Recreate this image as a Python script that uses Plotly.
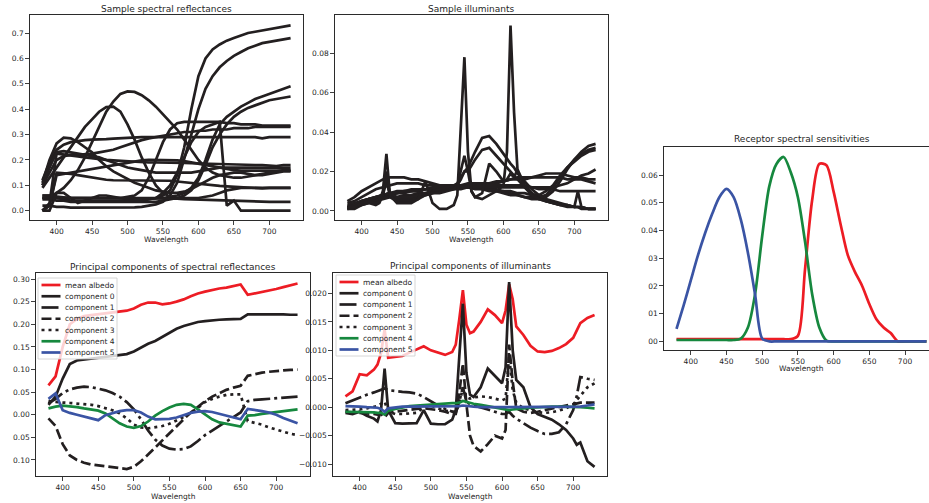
import plotly.graph_objects as go

W, H = 929, 503

# ---------------- data ----------------
wavelengths = [380, 390, 400, 410, 420, 430, 440, 450, 460, 470, 480, 490,
               500, 510, 520, 530, 540, 550, 560, 570, 580, 590, 600, 610,
               620, 630, 640, 650, 660, 670, 680, 690, 700, 710, 720, 730]

ill_wavelengths = [380, 390, 400, 410, 420, 425, 430, 435, 440, 450, 460, 470,
                   480, 490, 500, 510, 520, 530, 535, 540, 545, 550, 555, 560,
                   570, 580, 590, 600, 605, 610, 615, 620, 630, 640, 650, 660,
                   670, 680, 690, 700, 705, 710, 720, 730]

# sample spectral reflectances (on wavelengths)
refl_1 = [0.05, 0.05, 0.05, 0.045, 0.04, 0.04, 0.04, 0.04, 0.04, 0.04, 0.04, 0.04, 0.04, 0.04, 0.04,
          0.045, 0.05, 0.06, 0.08, 0.14, 0.25, 0.4, 0.53, 0.6, 0.635, 0.655, 0.67, 0.68, 0.69, 0.7,
          0.705, 0.71, 0.715, 0.72, 0.725, 0.73]
refl_2 = [0.02, 0.02, 0.015, 0.015, 0.012, 0.012, 0.012, 0.012, 0.012, 0.012, 0.012, 0.012, 0.012, 0.013, 0.015,
          0.02, 0.025, 0.035, 0.06, 0.11, 0.2, 0.3, 0.4, 0.48, 0.53, 0.565, 0.59, 0.61, 0.625, 0.64,
          0.65, 0.66, 0.665, 0.67, 0.675, 0.68]
refl_3 = [0.06, 0.06, 0.055, 0.05, 0.05, 0.05, 0.05, 0.05, 0.05, 0.05, 0.05, 0.05, 0.05, 0.05, 0.05,
          0.05, 0.05, 0.05, 0.055, 0.06, 0.07, 0.09, 0.13, 0.2, 0.28, 0.34, 0.37, 0.39, 0.41, 0.425,
          0.44, 0.45, 0.46, 0.47, 0.48, 0.49]
refl_4 = [0.045, 0.045, 0.04, 0.04, 0.035, 0.035, 0.035, 0.035, 0.035, 0.035, 0.035, 0.035, 0.035, 0.035, 0.035,
          0.035, 0.035, 0.04, 0.045, 0.05, 0.06, 0.08, 0.12, 0.18, 0.25, 0.3, 0.34, 0.37, 0.39, 0.405,
          0.415, 0.425, 0.435, 0.44, 0.445, 0.45]
refl_5 = [0.05, 0.05, 0.05, 0.05, 0.05, 0.05, 0.05, 0.05, 0.05, 0.05, 0.05, 0.05, 0.055, 0.06, 0.08,
          0.13, 0.2, 0.27, 0.32, 0.345, 0.35, 0.35, 0.35, 0.35, 0.35, 0.35, 0.345, 0.345, 0.34, 0.34,
          0.34, 0.335, 0.335, 0.335, 0.335, 0.335]
refl_6 = [0.1, 0.15, 0.2, 0.215, 0.22, 0.22, 0.222, 0.225, 0.23, 0.235, 0.24, 0.25, 0.26, 0.27, 0.278,
          0.285, 0.29, 0.295, 0.3, 0.305, 0.31, 0.31, 0.315, 0.315, 0.32, 0.32, 0.32, 0.325, 0.325, 0.325,
          0.33, 0.33, 0.33, 0.33, 0.33, 0.33]
refl_7 = [0.12, 0.19, 0.24, 0.26, 0.27, 0.275, 0.278, 0.28, 0.28, 0.282, 0.284, 0.286, 0.288, 0.29, 0.29,
          0.29, 0.29, 0.29, 0.29, 0.29, 0.292, 0.292, 0.292, 0.292, 0.292, 0.292, 0.292, 0.29, 0.29, 0.29,
          0.29, 0.285, 0.29, 0.29, 0.29, 0.29]
refl_8 = [0.11, 0.2, 0.265, 0.288, 0.285, 0.27, 0.25, 0.23, 0.2, 0.175, 0.155, 0.14, 0.125, 0.11, 0.1,
          0.09, 0.08, 0.075, 0.07, 0.07, 0.075, 0.085, 0.1, 0.115, 0.13, 0.14, 0.145, 0.15, 0.15, 0.145,
          0.14, 0.14, 0.145, 0.15, 0.155, 0.155]
refl_9 = [0.09, 0.13, 0.17, 0.21, 0.25, 0.29, 0.33, 0.36, 0.39, 0.408, 0.41, 0.39, 0.34, 0.28, 0.21,
          0.15, 0.1, 0.07, 0.055, 0.05, 0.05, 0.05, 0.05, 0.055, 0.06, 0.07, 0.08, 0.085, 0.09, 0.09,
          0.09, 0.09, 0.09, 0.09, 0.09, 0.09]
refl_10 = [0.05, 0.055, 0.07, 0.09, 0.12, 0.16, 0.21, 0.27, 0.33, 0.39, 0.43, 0.46, 0.47, 0.468, 0.455,
           0.435, 0.41, 0.38, 0.35, 0.32, 0.28, 0.24, 0.2, 0.17, 0.15, 0.14, 0.135, 0.13, 0.13, 0.135,
           0.14, 0.145, 0.15, 0.155, 0.16, 0.16]
refl_11 = [0.0, 0.0, 0.07, 0.07, 0.05, 0.03, 0.04, 0.05, 0.06, 0.06, 0.055, 0.05, 0.045, 0.04, 0.04,
           0.045, 0.05, 0.07, 0.1, 0.15, 0.21, 0.27, 0.31, 0.33, 0.34, 0.35, 0.02, 0.04, 0.0, 0.0,
           0.0, 0.0, 0.0, 0.0, 0.0, 0.0]
refl_12 = [0.0, 0.03, 0.225, 0.222, 0.218, 0.214, 0.21, 0.206, 0.202, 0.2, 0.198, 0.196, 0.194, 0.192, 0.19,
           0.19, 0.19, 0.19, 0.19, 0.19, 0.188, 0.187, 0.186, 0.185, 0.185, 0.184, 0.183, 0.182, 0.181, 0.18,
           0.18, 0.18, 0.179, 0.176, 0.18, 0.18]
refl_13 = [0.0, 0.02, 0.15, 0.148, 0.145, 0.14, 0.135, 0.13, 0.126, 0.122, 0.12, 0.12, 0.12, 0.12, 0.12,
           0.12, 0.12, 0.12, 0.118, 0.115, 0.112, 0.108, 0.105, 0.102, 0.1, 0.098, 0.096, 0.094, 0.092, 0.09,
           0.09, 0.088, 0.09, 0.09, 0.09, 0.09]
refl_14 = [0.06, 0.06, 0.056, 0.053, 0.05, 0.05, 0.05, 0.05, 0.05, 0.05, 0.05, 0.05, 0.05, 0.05, 0.05,
           0.05, 0.05, 0.05, 0.05, 0.048, 0.046, 0.045, 0.044, 0.043, 0.042, 0.04, 0.04, 0.038, 0.037, 0.036,
           0.035, 0.035, 0.035, 0.035, 0.035, 0.035]
refl_15 = [0.0, 0.02, 0.14, 0.145, 0.15, 0.155, 0.16, 0.165, 0.17, 0.175, 0.18, 0.185, 0.19, 0.195, 0.198,
           0.2, 0.2, 0.2, 0.2, 0.198, 0.195, 0.19, 0.185, 0.18, 0.175, 0.17, 0.165, 0.16, 0.158, 0.158,
           0.158, 0.157, 0.157, 0.157, 0.158, 0.158]
refl_16 = [0.1, 0.17, 0.23, 0.235, 0.23, 0.225, 0.22, 0.215, 0.21, 0.2, 0.19, 0.18, 0.17, 0.165, 0.16,
           0.155, 0.15, 0.15, 0.15, 0.15, 0.15, 0.15, 0.155, 0.16, 0.165, 0.17, 0.17, 0.17, 0.17, 0.17,
           0.17, 0.17, 0.17, 0.17, 0.17, 0.17]

# sample illuminants: fluorescent ones on ill_wavelengths, smooth ones on wavelengths
illum_f1 = [0.002, 0.002, 0.004, 0.005, 0.004, 0.005, 0.01, 0.029, 0.008, 0.004, 0.004, 0.004,
            0.006, 0.015, 0.004, 0.001, 0.001, 0.003, 0.008, 0.04, 0.078, 0.03, 0.01, 0.007,
            0.006, 0.008, 0.01, 0.013, 0.03, 0.094, 0.05, 0.02, 0.012, 0.008, 0.006, 0.005,
            0.004, 0.003, 0.002, 0.002, 0.01, 0.002, 0.001, 0.001]
illum_f2 = [0.001, 0.001, 0.003, 0.004, 0.003, 0.004, 0.008, 0.02, 0.007, 0.005, 0.005, 0.005,
            0.006, 0.008, 0.009, 0.009, 0.01, 0.011, 0.013, 0.02, 0.028, 0.02, 0.01, 0.007,
            0.009, 0.024, 0.02, 0.015, 0.016, 0.019, 0.017, 0.021, 0.013, 0.009, 0.006, 0.005,
            0.004, 0.003, 0.003, 0.002, 0.002, 0.002, 0.001, 0.001]
illum_f3 = [0.002, 0.003, 0.005, 0.006, 0.005, 0.006, 0.009, 0.018, 0.009, 0.007, 0.007, 0.007,
            0.008, 0.009, 0.01, 0.011, 0.012, 0.013, 0.014, 0.017, 0.02, 0.022, 0.026, 0.03,
            0.037, 0.038, 0.034, 0.029, 0.026, 0.024, 0.022, 0.019, 0.015, 0.011, 0.008, 0.006,
            0.005, 0.004, 0.003, 0.002, 0.002, 0.002, 0.001, 0.001]
illum_f4 = [0.001, 0.002, 0.004, 0.005, 0.004, 0.005, 0.008, 0.015, 0.008, 0.006, 0.006, 0.006,
            0.007, 0.008, 0.009, 0.01, 0.011, 0.012, 0.013, 0.016, 0.02, 0.02, 0.023, 0.026,
            0.031, 0.032, 0.028, 0.024, 0.022, 0.02, 0.018, 0.016, 0.012, 0.009, 0.007, 0.005,
            0.004, 0.003, 0.003, 0.002, 0.002, 0.001, 0.001, 0.001]
illum_s1 = [0.005, 0.007, 0.01, 0.012, 0.014, 0.016, 0.017, 0.017, 0.017, 0.016, 0.016, 0.015,
            0.014, 0.013, 0.013, 0.013, 0.013, 0.013, 0.013, 0.013, 0.014, 0.014, 0.015, 0.016,
            0.017, 0.017, 0.017, 0.018, 0.019, 0.019, 0.019, 0.018, 0.017, 0.017, 0.016, 0.016]
illum_s2 = [0.004, 0.005, 0.007, 0.009, 0.011, 0.012, 0.013, 0.014, 0.014, 0.014, 0.014, 0.013,
            0.013, 0.013, 0.013, 0.013, 0.013, 0.014, 0.014, 0.014, 0.014, 0.015, 0.015, 0.016,
            0.016, 0.016, 0.017, 0.017, 0.017, 0.017, 0.017, 0.016, 0.016, 0.016, 0.015, 0.014]
illum_s3 = [0.002, 0.003, 0.004, 0.005, 0.006, 0.007, 0.008, 0.009, 0.009, 0.01, 0.01, 0.011,
            0.011, 0.012, 0.012, 0.012, 0.013, 0.013, 0.013, 0.013, 0.013, 0.013, 0.013, 0.013,
            0.013, 0.013, 0.012, 0.012, 0.012, 0.012, 0.013, 0.014, 0.016, 0.018, 0.019, 0.021]
illum_s4 = [0.001, 0.002, 0.004, 0.006, 0.007, 0.008, 0.009, 0.009, 0.01, 0.01, 0.011, 0.011,
            0.011, 0.011, 0.012, 0.012, 0.012, 0.012, 0.012, 0.011, 0.011, 0.01, 0.01, 0.009,
            0.008, 0.007, 0.006, 0.006, 0.007, 0.01, 0.015, 0.021, 0.026, 0.03, 0.033, 0.034]
illum_s5 = [0.002, 0.003, 0.005, 0.006, 0.007, 0.008, 0.009, 0.01, 0.01, 0.011, 0.011, 0.011,
            0.012, 0.012, 0.012, 0.012, 0.012, 0.012, 0.011, 0.011, 0.01, 0.01, 0.009, 0.008,
            0.008, 0.007, 0.007, 0.007, 0.008, 0.012, 0.017, 0.022, 0.026, 0.029, 0.031, 0.032]
illum_s6 = [0.003, 0.004, 0.005, 0.006, 0.007, 0.008, 0.009, 0.009, 0.01, 0.01, 0.01, 0.011,
            0.011, 0.011, 0.011, 0.012, 0.012, 0.012, 0.012, 0.012, 0.011, 0.011, 0.01, 0.01,
            0.009, 0.009, 0.008, 0.008, 0.01, 0.013, 0.018, 0.022, 0.025, 0.028, 0.03, 0.031]
illum_s7 = [0.001, 0.002, 0.003, 0.004, 0.005, 0.006, 0.007, 0.007, 0.008, 0.008, 0.009, 0.009,
            0.01, 0.01, 0.011, 0.011, 0.011, 0.012, 0.012, 0.012, 0.012, 0.012, 0.012, 0.012,
            0.012, 0.012, 0.012, 0.011, 0.011, 0.011, 0.01, 0.01, 0.01, 0.01, 0.01, 0.01]

# principal components of spectral reflectances (on wavelengths)
pcr_mean = [0.065, 0.085, 0.15, 0.2, 0.212, 0.218, 0.22, 0.222, 0.224, 0.226, 0.228, 0.23,
            0.235, 0.243, 0.248, 0.248, 0.244, 0.246, 0.25, 0.255, 0.262, 0.268, 0.272, 0.276,
            0.279, 0.281, 0.284, 0.288, 0.265, 0.268, 0.272, 0.274, 0.278, 0.282, 0.286, 0.29]
pcr_0 = [0.022, 0.04, 0.08, 0.112, 0.12, 0.122, 0.123, 0.125, 0.127, 0.129, 0.131, 0.134,
         0.14, 0.148, 0.157, 0.163, 0.172, 0.182, 0.19, 0.196, 0.2, 0.205, 0.207, 0.209,
         0.21, 0.211, 0.212, 0.212, 0.222, 0.222, 0.223, 0.223, 0.223, 0.222, 0.221, 0.221]
pcr_1 = [0.025, 0.035, 0.048, 0.056, 0.06, 0.062, 0.061, 0.058, 0.054, 0.048, 0.04, 0.028,
         0.012, -0.01, -0.035, -0.055, -0.068, -0.075, -0.077, -0.076, -0.07, -0.058, -0.045, -0.035,
         -0.025, -0.015, -0.005, 0.005, 0.03, 0.033, 0.034, 0.035, 0.036, 0.037, 0.039, 0.04]
pcr_2 = [-0.008, -0.025, -0.065, -0.09, -0.1, -0.106, -0.11, -0.112, -0.113, -0.115, -0.118, -0.12,
         -0.115, -0.103, -0.088, -0.072, -0.056, -0.04, -0.025, -0.01, 0.005, 0.018, 0.03, 0.04,
         0.048, 0.055, 0.06, 0.064, 0.086, 0.09, 0.093, 0.095, 0.097, 0.098, 0.099, 0.1]
pcr_3 = [0.03, 0.028, 0.027, 0.026, 0.025, 0.024, 0.022, 0.019, 0.015, 0.01, 0.003, -0.008,
         -0.022, -0.028, -0.03, -0.028, -0.025, -0.02, -0.013, -0.005, 0.005, 0.015, 0.028, 0.035,
         0.04, 0.044, 0.045, 0.045, -0.014, -0.018, -0.022, -0.028, -0.033, -0.038, -0.042, -0.045]
pcr_4 = [0.014, 0.018, 0.02, 0.019, 0.017, 0.014, 0.012, 0.009, 0.003, -0.008, -0.019, -0.026,
         -0.029, -0.025, -0.015, -0.002, 0.008, 0.016, 0.022, 0.024, 0.022, 0.012, 0.0, -0.01,
         -0.017, -0.02, -0.022, -0.026, -0.002, -0.001, 0.002, 0.004, 0.006, 0.008, 0.01, 0.012]
pcr_5 = [0.035, 0.047, 0.01, 0.004, 0.0, -0.004, -0.008, -0.012, -0.001, 0.004, 0.008, 0.01,
         0.01, 0.005, -0.004, -0.01, -0.01, -0.009, -0.006, -0.001, 0.004, 0.007, 0.008, 0.006,
         0.002, -0.002, -0.006, -0.01, 0.013, 0.011, 0.008, 0.005, 0.0, -0.007, -0.013, -0.019]

# principal components of illuminants (on ill_wavelengths)
pci_mean = [0.0019, 0.0028, 0.0058, 0.0056, 0.0066, 0.0075, 0.0095, 0.0137, 0.0087, 0.0088, 0.009, 0.0096,
            0.0101, 0.0107, 0.01, 0.0096, 0.0092, 0.0097, 0.011, 0.0155, 0.0206, 0.0145, 0.013, 0.0133,
            0.015, 0.0172, 0.0162, 0.0148, 0.017, 0.0216, 0.019, 0.0142, 0.0127, 0.0108, 0.0098, 0.0097,
            0.0099, 0.0104, 0.0111, 0.0122, 0.0135, 0.0148, 0.0157, 0.0162]
pci_0 = [-0.001, -0.0012, -0.0008, -0.0015, -0.002, -0.0025, -0.0005, 0.0068, -0.0005, -0.0028, -0.0029, -0.0029,
         -0.0028, -0.0005, -0.0029, -0.003, -0.003, -0.0022, -0.0005, 0.009, 0.0182, 0.006, 0.0022, 0.0018,
         0.0035, 0.0068, 0.0055, 0.0042, 0.007, 0.022, 0.01, 0.0048, 0.0035, 0.0, -0.0012, -0.0017,
         -0.0022, -0.003, -0.004, -0.0055, -0.0066, -0.0062, -0.0095, -0.0105]
pci_1 = [0.0007, 0.0012, 0.0018, 0.0022, 0.0026, 0.0028, 0.003, 0.0033, 0.003, 0.0028, 0.0027, 0.0026,
         0.0024, 0.0018, 0.001, 0.0003, -0.0003, -0.0008, -0.001, 0.001, 0.0035, 0.001, 0.0005, 0.0003,
         0.0, -0.0004, -0.0008, -0.0012, -0.0012, -0.0008, -0.0015, -0.002, -0.0028, -0.0036, -0.0042, -0.0047,
         -0.0047, -0.0044, -0.003, -0.0005, 0.002, 0.0053, 0.005, 0.0048]
pci_2 = [-0.0008, -0.0009, -0.001, -0.001, -0.0012, -0.0013, -0.0012, -0.0018, -0.001, -0.0008, -0.0006, -0.0004,
         -0.0003, -0.0002, -0.0003, -0.0005, -0.0008, -0.0012, -0.0012, 0.0025, 0.0077, 0.0005, -0.005, -0.0068,
         -0.0078, -0.0065, -0.005, -0.0055, -0.004, 0.011, 0.0045, -0.0002, -0.0008, -0.001, -0.0008, -0.0005,
         -0.0002, 0.0, 0.0003, 0.0005, 0.0007, 0.0008, 0.0008, 0.0008]
pci_3 = [-0.0005, -0.0005, -0.0004, -0.0002, 0.0, 0.0002, 0.0006, 0.001, -0.0008, -0.0012, -0.0012, -0.0011,
         -0.001, 0.0, 0.0003, -0.0002, -0.0006, -0.0008, -0.0008, 0.0005, 0.0035, 0.0018, 0.0015, 0.0017,
         0.0019, 0.0018, 0.0015, 0.0012, 0.0015, 0.009, 0.003, 0.0008, -0.0002, -0.0006, -0.0009, -0.001,
         -0.0009, -0.0006, -0.0002, 0.0005, 0.0012, 0.002, 0.0035, 0.0042]
pci_4 = [-0.0008, -0.0008, -0.0008, -0.0008, -0.0009, -0.001, -0.001, -0.0013, -0.0006, -0.0003, 0.0, 0.0002,
         0.0003, 0.0004, 0.0005, 0.0006, 0.0007, 0.0007, 0.0007, 0.0008, 0.0011, 0.0009, 0.0007, 0.0006,
         0.0004, 0.0002, 0.0, -0.0002, -0.0003, -0.0005, -0.0004, -0.0003, -0.0002, -0.0001, 0.0, 0.0,
         0.0001, 0.0001, 0.0001, 0.0001, 0.0, 0.0, -0.0001, -0.0002]
pci_5 = [0.0002, 0.0002, 0.0001, 0.0, 0.0, -0.0001, -0.0003, -0.0008, -0.0002, 0.0, 0.0001, 0.0001,
         0.0001, 0.0001, 0.0001, 0.0001, 0.0002, 0.0002, 0.0002, 0.0002, 0.0003, 0.0002, 0.0001, 0.0001,
         0.0, 0.0, 0.0, 0.0, 0.0, 0.0001, 0.0, 0.0, 0.0, 0.0, 0.0, 0.0,
         0.0, 0.0, 0.0, 0.0, 0.0, 0.0001, 0.0003, 0.0005]

# receptor spectral sensitivities (on wavelengths)
sens_red = [0.0008, 0.0008, 0.0008, 0.0008, 0.0008, 0.0008, 0.0008, 0.0008, 0.0008, 0.0008, 0.0008, 0.0008,
            0.0008, 0.0008, 0.0008, 0.0008, 0.0008, 0.002, 0.026, 0.051, 0.064, 0.0635, 0.054, 0.042,
            0.031, 0.025, 0.02, 0.0135, 0.008, 0.005, 0.003, 0.0, 0.0, 0.0, 0.0, 0.0]
sens_green = [0.0005, 0.0005, 0.0005, 0.0005, 0.0005, 0.0005, 0.0005, 0.0005, 0.0005, 0.001, 0.005, 0.017,
              0.038, 0.056, 0.064, 0.0665, 0.061, 0.052, 0.036, 0.017, 0.005, 0.0003, 0.0, 0.0,
              0.0, 0.0, 0.0, 0.0, 0.0, 0.0, 0.0, 0.0, 0.0, 0.0, 0.0, 0.0]
sens_blue = [0.0045, 0.013, 0.022, 0.031, 0.039, 0.046, 0.052, 0.055, 0.052, 0.044, 0.032, 0.017,
             0.001, 0.0, 0.0, 0.0, 0.0, 0.0, 0.0, 0.0, 0.0, 0.0, 0.0, 0.0,
             0.0, 0.0, 0.0, 0.0, 0.0, 0.0, 0.0, 0.0, 0.0, 0.0, 0.0, 0.0]

x_ticks = [400, 450, 500, 550, 600, 650, 700]
ticks_a = [0.0, 0.1, 0.2, 0.3, 0.4, 0.5, 0.6, 0.7]
ticktext_a = ["0.0", "0.1", "0.2", "0.3", "0.4", "0.5", "0.6", "0.7"]
ticks_b = [0.0, 0.02, 0.04, 0.06, 0.08]
ticktext_b = ["0.00", "0.02", "0.04", "0.06", "0.08"]
ticks_c = [0.0, 0.01, 0.02, 0.03, 0.04, 0.05, 0.06]
ticktext_c = ["00", "01", "02", "03", "0.04", "0.05", "0.06"]
ticks_d = [-0.10, -0.05, 0.0, 0.05, 0.10, 0.15, 0.20, 0.25, 0.30]
ticktext_d = ["0.10", "0.05", "0.00", "0.05", "0.10", "0.15", "0.20", "0.25", "0.30"]
ticks_e = [-0.010, -0.005, 0.0, 0.005, 0.010, 0.015, 0.020]
ticktext_e = ["\u22120.010", "\u22120.005", "0.000", "0.005", "0.010", "0.015", "0.020"]

legend_labels = ["mean albedo", "component 0", "component 1", "component 2",
                 "component 3", "component 4", "component 5"]

for arr in [refl_1, refl_2, refl_3, refl_4, refl_5, refl_6, refl_7, refl_8, refl_9, refl_10,
            refl_11, refl_12, refl_13, refl_14, refl_15, refl_16, illum_s1, illum_s2, illum_s3,
            illum_s4, illum_s5, illum_s6, illum_s7, pcr_mean, pcr_0, pcr_1, pcr_2, pcr_3, pcr_4,
            pcr_5, sens_red, sens_green, sens_blue]:
    assert len(arr) == len(wavelengths), len(arr)
for arr in [illum_f1, illum_f2, illum_f3, illum_f4, pci_mean, pci_0, pci_1, pci_2, pci_3, pci_4, pci_5]:
    assert len(arr) == len(ill_wavelengths), len(arr)

# ---------------- styling ----------------
BLACK = "#231f20"
RED = "#ed1c24"
GREEN = "#16883e"
BLUE = "#3a54a4"
FRAME = "#2b2b2b"
TXT = "#262626"
FONT = "DejaVu Sans"
LW = 2.7
DASH = "10px,4px"
DASHDOT = "17px,4px,3px,4px"
DOT = "3px,4px"

pc_colors = [RED, BLACK, BLACK, BLACK, BLACK, GREEN, BLUE]
pc_dashes = ["solid", "solid", DASHDOT, DASH, DOT, "solid", "solid"]

fig = go.Figure()


def add_line(x, y, ax, color=BLACK, dash="solid", shape="linear"):
    fig.add_trace(go.Scatter(x=x, y=y, mode="lines", xaxis="x" + ax, yaxis="y" + ax,
                             line=dict(color=color, width=LW, dash=dash, shape=shape,
                                       smoothing=0.8 if shape == "spline" else None),
                             showlegend=False, hoverinfo="skip"))


# panel A: sample reflectances
for arr in [refl_1, refl_2, refl_3, refl_4, refl_5, refl_6, refl_7, refl_8, refl_9, refl_10,
            refl_11, refl_12, refl_13, refl_14, refl_15, refl_16]:
    add_line(wavelengths, arr, "")
# panel B: sample illuminants
for arr in [illum_s1, illum_s2, illum_s3, illum_s4, illum_s5, illum_s6, illum_s7]:
    add_line(wavelengths, arr, "2")
for arr in [illum_f4, illum_f3, illum_f2, illum_f1]:
    add_line(ill_wavelengths, arr, "2")
# panel C: receptors
add_line(wavelengths, sens_red, "3", RED, shape="spline")
add_line(wavelengths, sens_green, "3", GREEN, shape="spline")
add_line(wavelengths, sens_blue, "3", BLUE, shape="spline")
# panel D: PCs of reflectances
for arr, c, d in zip([pcr_mean, pcr_0, pcr_1, pcr_2, pcr_3, pcr_4, pcr_5], pc_colors, pc_dashes):
    add_line(wavelengths, arr, "4", c, d)
# panel E: PCs of illuminants
for arr, c, d in zip([pci_mean, pci_0, pci_1, pci_2, pci_3, pci_4, pci_5], pc_colors, pc_dashes):
    add_line(ill_wavelengths, arr, "5", c, d)

common = dict(showline=True, linecolor=FRAME, linewidth=1.3, ticks="outside", ticklen=3.5,
              tickwidth=0.9, tickcolor=FRAME, showgrid=False, zeroline=False,
              tickfont=dict(family=FONT, size=7.5, color=TXT))

# pixel frames: (x0, x1, y0, y1)
panels = [
    ("", (30, 303, 15, 220), [362.5, 747.5], [-0.0366, 0.771], ticks_a, ticktext_a, True),
    ("2", (335, 608, 15, 220), [362.5, 747.5], [-0.0046, 0.0994], ticks_b, ticktext_b, True),
    ("3", (664, 929, 147, 350), [362.5, 733.6], [-0.0031, 0.0701], ticks_c, ticktext_c, False),
    ("4", (36, 310, 273, 476), [362.5, 747.5], [-0.1354, 0.3133], ticks_d, ticktext_d, True),
    ("5", (333, 607, 273, 476), [362.5, 747.5], [-0.0121, 0.0236], ticks_e, ticktext_e, True),
]
lay = {}
for ax, (x0, x1, y0, y1), xr, yr, tv, tt, ymir in panels:
    lay["xaxis" + ax] = dict(domain=[x0 / W, x1 / W], range=xr, anchor="y" + ax, mirror=True,
                             tickvals=x_ticks, ticktext=[str(t) for t in x_ticks], **common)
    lay["yaxis" + ax] = dict(domain=[1 - y1 / H, 1 - y0 / H], range=yr, anchor="x" + ax, mirror=ymir,
                             tickvals=tv, ticktext=tt, **common)

annotations = []
shapes = []


def text(x, y, s, size=7.5, anchor="center"):
    annotations.append(dict(x=x / W, y=1 - y / H, xref="paper", yref="paper", text=s, showarrow=False,
                            xanchor=anchor, yanchor="middle", borderpad=0,
                            font=dict(family=FONT, size=size, color=TXT)))


# titles
text(166.5, 9, "Sample spectral reflectances", 9)
text(471.5, 9, "Sample illuminants", 9)
text(801.5, 139, "Receptor spectral sensitivities", 9)
text(173, 266.5, "Principal components of spectral reflectances", 9)
text(470, 265.5, "Principal components of illuminants", 9)
# x axis titles
text(166.5, 239.5, "Wavelength")
text(471.5, 239.5, "Wavelength")
text(801.5, 368.5, "Wavelength")
text(173, 496.5, "Wavelength")
text(470, 496.5, "Wavelength")


def legend(left, first_y, step=11.25):
    top = first_y - 7
    bottom = first_y + step * 6 + 6.5
    shapes.append(dict(type="rect", xref="paper", yref="paper", layer="above",
                       x0=left / W, x1=(left + 79) / W, y0=1 - bottom / H, y1=1 - top / H,
                       fillcolor="rgba(255,255,255,0.8)", line=dict(color="#cccccc", width=0.8)))
    for i, (lab, c, d) in enumerate(zip(legend_labels, pc_colors, pc_dashes)):
        yy = first_y + step * i
        shapes.append(dict(type="line", xref="paper", yref="paper", layer="above",
                           x0=(left + 3.5) / W, x1=(left + 22.5) / W, y0=1 - yy / H, y1=1 - yy / H,
                           line=dict(color=c, width=LW, dash=d)))
        text(left + 26, yy, lab, 7.5, "left")


legend(38, 285)
legend(336, 282)

fig.update_layout(width=W, height=H, margin=dict(l=0, r=0, t=0, b=0), paper_bgcolor="white",
                  plot_bgcolor="white", showlegend=False, font=dict(family=FONT, size=7.5, color=TXT),
                  annotations=annotations, shapes=shapes, **lay)

fig.write_html("out.html", config={"displayModeBar": False, "staticPlot": True},
               post_script="document.body.style.margin='0';document.body.style.padding='0';"
                           "document.body.style.overflow='hidden';")
